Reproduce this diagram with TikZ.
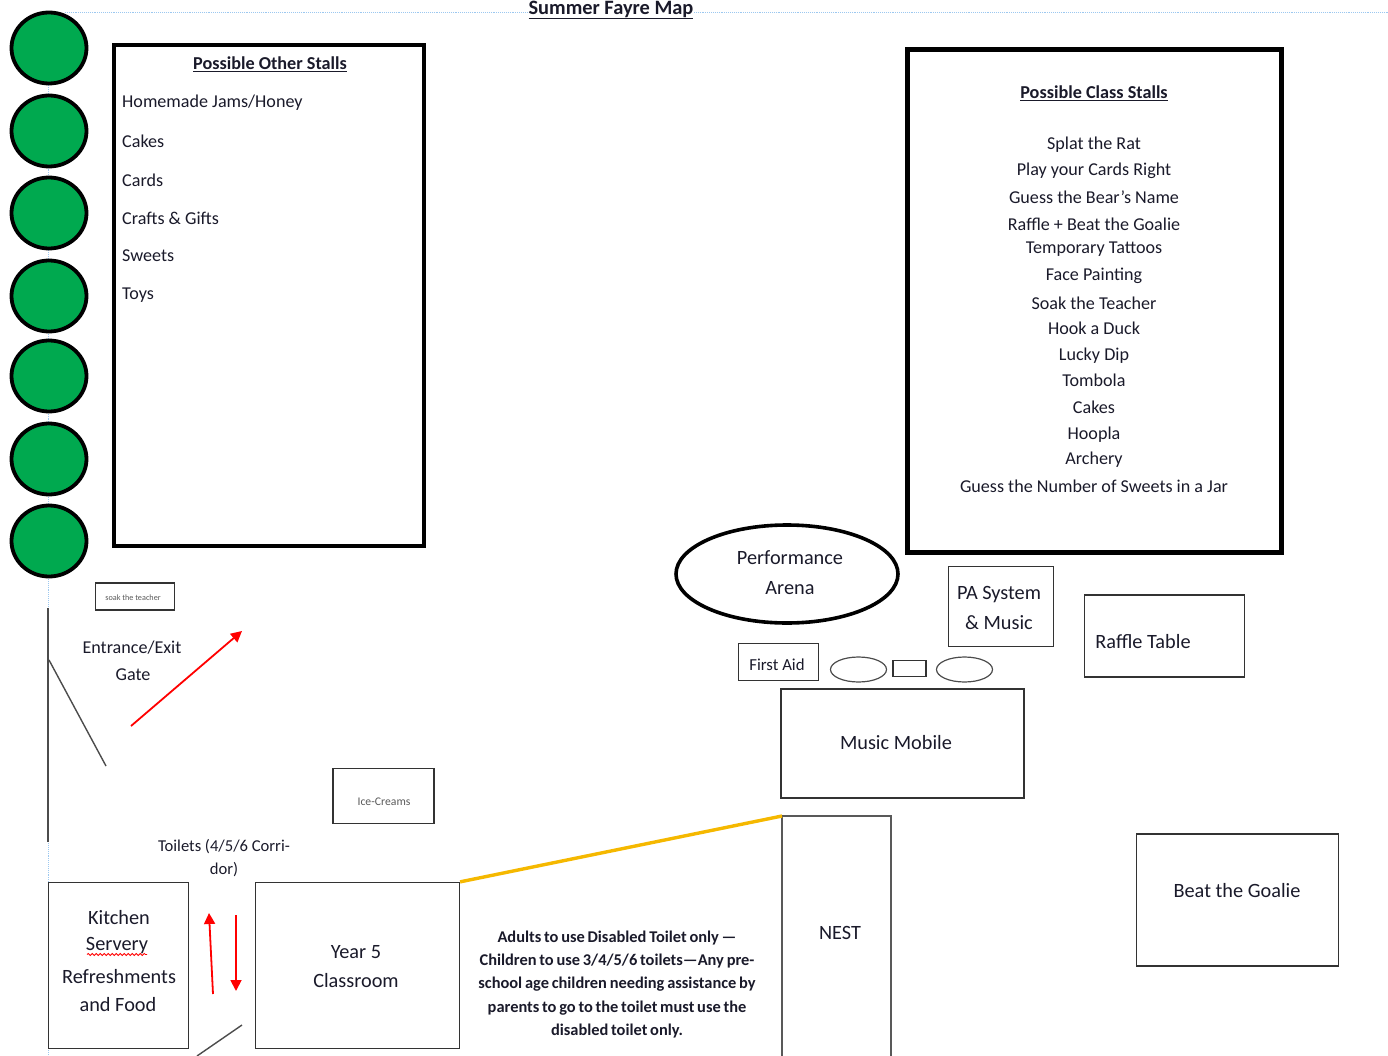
\documentclass[tikz,border=0pt]{standalone}
\usepackage{fontspec}
\setmainfont{Carlito}
\newfontfamily\notefont[WordSpace=0.75]{Carlito}
\usetikzlibrary{shapes.geometric,arrows.meta,decorations.pathmorphing}
\definecolor{stallgreen}{HTML}{00A94F}
\definecolor{guide}{HTML}{9CC8F0}
\definecolor{dk}{HTML}{1A1A2A}
\definecolor{linkgold}{HTML}{F5B800}
\tikzset{
  x=1pt,y=-1pt,
  every node/.style={text=dk,font=\fontsize{18.1}{21}\selectfont,inner sep=0pt},
  big/.style={font=\fontsize{20.3}{24}\selectfont},
  head/.style={font=\fontsize{18.2}{21}\selectfont\bfseries},
  txt/.style={anchor=center,align=center},
  ltxt/.style={anchor=west},
  stallcircle/.style={ellipse,draw=black,line width=3.8pt,fill=stallgreen,minimum width=75pt,minimum height=71pt},
  heavybox/.style={draw=black,line width=4pt},
  thinbox/.style={draw=black!80,line width=1.3pt},
  guideline/.style={draw=guide,line width=0.9pt,densely dotted},
  redarrow/.style={draw=red,line width=1.8pt,-{Triangle[length=11pt,width=11pt]}},
  gateline/.style={draw=black!70,line width=1.4pt},
}
\begin{document}
\begin{tikzpicture}
\useasboundingbox (0,0) rectangle (1388,1056);
% guides
\coordinate (gt0) at (65,12); \coordinate (gt1) at (1388,12);
\coordinate (gl0) at (48,85); \coordinate (gl1) at (48,1056);
\draw[guideline] (gt0) -- (gt1);
\draw[guideline] (gl0) -- (gl1);
% circles
\foreach \n/\yy in {a/48,b/131,c/213,d/296,e/376,f/459,g/541}
  \node[stallcircle] (c\n) at (49,\yy) {};
% title
\node[txt,fill=white,inner xsep=1pt,font=\fontsize{20.4}{23}\selectfont\bfseries] (title) at (611,10) {\underline{Summer Fayre Map}};
% other stalls
\node[heavybox,minimum width=310pt,minimum height=501pt] (otherbox) at (269,295.5) {};
\node[txt,head] (otherhead) at (270,64.5) {\underline{Possible Other Stalls}};
\foreach \n/\yy/\t in {a/103/{Homemade Jams/Honey},b/141.5/Cakes,c/180/Cards,d/218.5/Crafts \& Gifts,e/256/Sweets,f/295/Toys}
  \node[ltxt] (o\n) at (122,\yy) {\t};
% class stalls
\node[heavybox,line width=5pt,minimum width=374pt,minimum height=503pt] (classbox) at (1094,301) {};
\node[txt,head] (classhead) at (1094,93) {\underline{Possible Class Stalls}};
\foreach \n/\yy/\t in {a/145/Splat the Rat,b/171/Play your Cards Right,c/197/Guess the Bear's Name,d/224/Raffle + Beat the Goalie,e/249.5/Temporary Tattoos,f/276/Face Painting,g/303/Soak the Teacher,h/328.5/Hook a Duck,i/355.5/Lucky Dip,j/380.5/Tombola,k/407.5/Cakes,l/434.5/Hoopla,m/460/Archery,n/486/Guess the Number of Sweets in a Jar}
  \node[txt] (k\n) at (1094,\yy) {\t};
% arena
\node[ellipse,draw=black,line width=3.6pt,minimum width=222pt,minimum height=98pt] (arena) at (787,574) {};
\node[txt,big] (arenat1) at (790,558) {Performance};
\node[txt,big] (arenat2) at (790,588) {Arena};
% PA
\node[thinbox,minimum width=105pt,minimum height=80pt] (pa) at (1001,606.5) {};
\node[txt,big] (pat1) at (999,595) {PA System};
\node[txt,big] (pat2) at (999,623) {\& Music};
% raffle
\node[thinbox,minimum width=160pt,minimum height=82pt] (raffle) at (1164.5,636) {};
\node[txt,big] (rafflet) at (1143,642) {Raffle Table};
% first aid
\node[thinbox,minimum width=80pt,minimum height=37pt] (aid) at (778.5,662) {};
\node[txt,font=\fontsize{16.8}{20}\selectfont] (aidt) at (777,665) {First Aid};
% small
\node[ellipse,draw=black!70,line width=1.2pt,minimum width=56pt,minimum height=25pt] (ov1) at (858.5,669.5) {};
\node[thinbox,minimum width=33pt,minimum height=16pt] (sm) at (909.5,668.5) {};
\node[ellipse,draw=black!70,line width=1.2pt,minimum width=56pt,minimum height=25pt] (ov2) at (964.5,669.5) {};
% music mobile
\node[thinbox,minimum width=243pt,minimum height=109pt] (mm) at (902.5,743.5) {};
\node[txt,big] (mmt) at (896,743) {Music Mobile};
% nest
\coordinate (n1) at (782,1056); \coordinate (n2) at (782,816); \coordinate (n3) at (891,816); \coordinate (n4) at (891,1056);
\draw[draw=black!65,line width=1.7pt] (n1) -- (n2) -- (n3) -- (n4);
\node[txt,big] (nestt) at (840,933) {NEST};
% beat the goalie
\node[thinbox,minimum width=202pt,minimum height=132pt] (goalie) at (1237.5,900) {};
\node[txt,big] (goaliet) at (1237,891) {Beat the Goalie};
% soak box
\node[thinbox,minimum width=79pt,minimum height=27pt] (soak) at (135,596.5) {};
\node[txt,font=\fontsize{8.2}{10}\selectfont,text=black!65] (soakt) at (133,598) {soak the teacher};
% gate
\node[txt] (gate1) at (132,648) {Entrance/Exit};
\node[txt] (gate2) at (133,675) {Gate};
\coordinate (wt) at (48,608); \coordinate (wb) at (48,842);
\draw[draw=black!70,line width=2.2pt] (wt) -- (wb);
\coordinate (g0) at (49,660); \coordinate (g1) at (106,766);
\draw[gateline] (g0) -- (g1);
\coordinate (ra0) at (131,726); \coordinate (ra1) at (242,631);
\draw[redarrow] (ra0) -- (ra1);
% ice
\node[thinbox,minimum width=101pt,minimum height=55pt] (ice) at (383.5,796) {};
\node[txt,font=\fontsize{11.7}{14}\selectfont,text=black!65] (icet) at (384,802) {Ice-Creams};
% toilets
\node[txt,font=\fontsize{16.6}{20}\selectfont] (toil1) at (224,847) {Toilets (4/5/6 Corri-};
\node[txt,font=\fontsize{16.6}{20}\selectfont] (toil2) at (224,870) {dor)};
% kitchen
\node[thinbox,minimum width=140pt,minimum height=166pt] (kit) at (118.5,965.5) {};
\node[txt,big] (kit1) at (119,918) {Kitchen};
\node[txt,big] (kit2) at (117,946) {Servery};
\node[txt,big] (kit3) at (119,977) {Refreshments};
\node[txt,big] (kit4) at (118,1005) {and Food};
\coordinate (sq0) at (87,954.5); \coordinate (sq1) at (147,954.5);
\draw[red,line width=0.8pt,decorate,decoration={snake,amplitude=1pt,segment length=4pt}] (sq0) -- (sq1);
% year5
\node[thinbox,minimum width=204pt,minimum height=166pt] (y5) at (357.5,965.5) {};
\node[txt,big] (y51) at (356,952) {Year 5};
\node[txt,big] (y52) at (356,981) {Classroom};
% arrows
\coordinate (ru0) at (213,994); \coordinate (ru1) at (209,913);
\coordinate (rd0) at (236,915); \coordinate (rd1) at (236,991);
\draw[redarrow] (ru0) -- (ru1);
\draw[redarrow] (rd0) -- (rd1);
% low gate
\coordinate (lg0) at (242,1025); \coordinate (lg1) at (197,1056);
\draw[gateline] (lg0) -- (lg1);
% gold
\draw[draw=linkgold,line width=3.4pt] (y5.north east) -- (n2);
% note
\node[txt,font=\notefont\fontsize{16.4}{23.4}\selectfont\bfseries] (note) at (617,984.5) {Adults to use Disabled Toilet only —\\Children to use 3/4/5/6 toilets—Any pre-\\school age children needing assistance by\\parents to go to the toilet must use the\\disabled toilet only.};
\end{tikzpicture}
\end{document}
